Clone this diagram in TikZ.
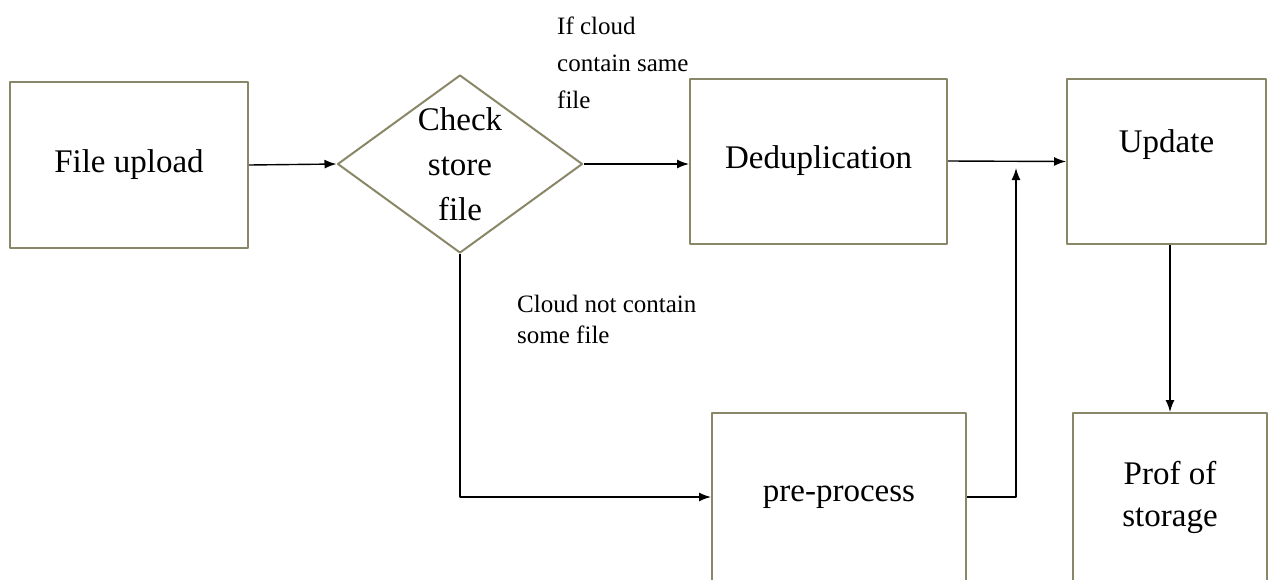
\documentclass[tikz,border=0pt]{standalone}
\usepackage{fontspec}
\setmainfont{Liberation Serif}
\usetikzlibrary{arrows.meta,positioning,calc,shapes.geometric}
\definecolor{boxline}{RGB}{138,135,104}

\begin{document}
\begin{tikzpicture}[x=1pt, y=-1pt, line join=round,
  box/.style={draw=boxline, line width=2pt, inner sep=0pt, font=\fontsize{33}{42}\selectfont, align=center},
  decision/.style={diamond, draw=boxline, line width=2pt, inner sep=0pt, minimum width=245pt, minimum height=178pt},
  main/.style={inner sep=0pt, font=\fontsize{33}{45}\selectfont, align=center},
  note/.style={inner sep=0pt, font=\fontsize{25}{37}\selectfont, align=left, anchor=north west},
  flow/.style={line width=1.4pt, -{Latex[length=12pt,width=9pt]}}]
% page frame (same size as the reference)
\useasboundingbox (0,0) rectangle (1269,579);
% steps of the flow
\node[box, minimum width=238pt, minimum height=166pt] (upload) at (129,165) {File upload};
\node[decision] (check) at (460,164) {};
\node[main] (checktxt) at (check.center) {Check\\store\\file};
\node[box, minimum width=257pt, minimum height=165pt] (dedup) at (818.5,161) {Deduplication};
\node[box, minimum width=199pt, minimum height=165pt] (update) at (1166.5,161.5) {};
\node[main] (updatetxt) at (1166.5,145) {Update};
\node[box, minimum width=254pt, minimum height=168pt] (pre) at (839,497) {pre-process};
\node[box, minimum width=194pt, minimum height=168pt] (prof) at (1170,497) {Prof of\\storage};
% branch notes
\node[note] (samenote) at (557,17) {If cloud\\contain same\\file};
\node[note, font=\fontsize{25}{31}\selectfont] (othernote) at (517,295) {Cloud not contain\\some file};
% connectors
\coordinate (joint) at (1016,168);
\draw[flow] (upload.east) -- (check.west);
\draw[flow] (check.east) -- (check.east -| dedup.west);
\draw[flow] (dedup.east) -- (update.west);
\draw[flow] (check.south) |- (pre.west);
\draw[flow] (pre.east) -| (joint);
\draw[flow] (update.south -| prof.north) -- (prof.north);
\end{tikzpicture}
\end{document}
